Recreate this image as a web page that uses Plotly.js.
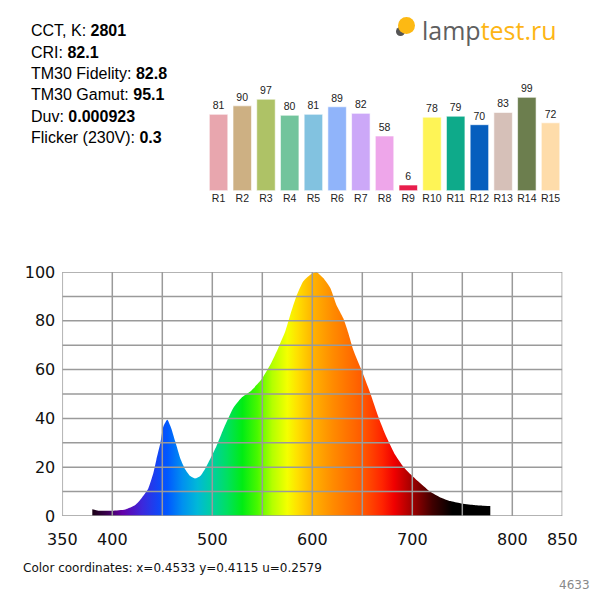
<!DOCTYPE html>
<html>
<head>
<meta charset="utf-8">
<script src="https://cdn.plot.ly/plotly-3.0.1.min.js"></script>
<style>
  html, body { margin: 0; padding: 0; background: #fff; }
  #chart { width: 600px; height: 600px; }
</style>
</head>
<body>
<div id="chart"></div>
<script>
// spectrum (nm -> relative power)
var wavelengths = [380, 386, 400, 413, 423, 429, 436, 441, 444, 448, 451, 455, 459, 463, 468, 473, 478, 483, 488, 493, 499,
    504, 509, 513, 521, 529, 538, 549, 558, 566, 573, 578, 584, 591, 598, 604, 611, 618, 624, 631, 636,
    641, 649, 658, 666, 674, 683, 691, 699, 708, 718, 728, 738, 748, 761, 771, 778]
var power = [2.8, 2.2, 2.2, 2.7, 4.5, 7.2, 11.3, 17.5, 23, 29.8, 36.6, 39.4, 35.9, 30.5, 23.6, 19.1, 16.4, 15.4, 16.4, 19.5, 24.3,
    28.5, 33.5, 37.4, 44.3, 48.4, 51, 55.9, 62, 68.9, 75.7, 82.5, 90, 96.2, 98.9, 100, 97.5, 93.4, 86.6, 81, 75,
    68, 60, 50.3, 40.7, 32.5, 25, 20.2, 16.8, 13.4, 9.9, 7.6, 6.1, 5.2, 4.5, 4.2, 4.1]

// colour rendering indices
var riNames = ['R1', 'R2', 'R3', 'R4', 'R5', 'R6', 'R7', 'R8', 'R9', 'R10', 'R11', 'R12', 'R13', 'R14', 'R15']
var riValues = [81, 90, 97, 80, 81, 89, 82, 58, 6, 78, 79, 70, 83, 99, 72]
var riColors = ['#e8a6ae', '#cdb083', '#aec266', '#72c49c', '#82c2e0', '#90b4fa', '#cca8f8', '#eea6ea',
    '#e81e4c', '#fef456', '#0eaa8a', '#065ebe', '#d6c0b8', '#6c7e4e', '#fedcaa']

var infoLabels = ['CCT, K: ', 'CRI: ', 'TM30 Fidelity: ', 'TM30 Gamut: ', 'Duv: ', 'Flicker (230V): ']
var infoValues = ['2801', '82.1', '82.8', '95.1', '0.000923', '0.3']

var xTicks = [350, 400, 500, 600, 700, 800, 850]
var coordText = 'Color coordinates: x=0.4533 y=0.4115 u=0.2579'
var sampleId = '4633'

// wavelength -> colour for the fill
var rainbow = [
    [0, '#1a0014'], [0.0375, '#3a0050'], [0.075, '#6400a8'], [0.125, '#3c28dc'],
    [0.1625, '#1444f4'], [0.1875, '#0058ff'], [0.225, '#0090f0'], [0.2625, '#00b8d8'],
    [0.3, '#00d0a0'], [0.3375, '#00e060'], [0.375, '#00ec14'], [0.4125, '#48f800'],
    [0.45, '#b4ff00'], [0.4875, '#f4ff00'], [0.5125, '#ffe000'], [0.55, '#ffb400'],
    [0.6, '#ff8c00'], [0.675, '#ff5a00'], [0.725, '#ff2400'], [0.755, '#f00000'],
    [0.8, '#a00000'], [0.85, '#400000'], [0.9, '#000000'], [1, '#000000']
]

var px = function (v) { return v / 600 }
var py = function (v) { return 1 - v / 600 }

var spectrum = {
    x: wavelengths,
    y: power,
    type: 'scatter',
    mode: 'none',
    fill: 'tozeroy',
    line: { shape: 'spline', smoothing: 0.5 },
    fillgradient: { type: 'horizontal', colorscale: rainbow, start: 380, stop: 780 },
    hoverinfo: 'skip',
    xaxis: 'x',
    yaxis: 'y'
}

var bars = {
    x: riNames,
    y: riValues,
    type: 'bar',
    marker: { color: riColors, line: { color: 'rgba(255,255,255,0.6)', width: 1 } },
    text: riValues.map(String),
    textposition: 'outside',
    textfont: { family: 'Liberation Sans, Arial', size: 10.5, color: '#222' },
    cliponaxis: false,
    hoverinfo: 'skip',
    xaxis: 'x2',
    yaxis: 'y2'
}

// grid drawn as shapes so it sits on top of the fill, like the original
var shapes = []
for (var g = 350; g <= 850; g += 50) {
    shapes.push({ type: 'line', xref: 'x', yref: 'y', x0: g, x1: g, y0: 0, y1: 100,
        line: { color: '#9a9a9a', width: 1.5 }, layer: 'above' })
}
for (var h = 0; h <= 100; h += 10) {
    shapes.push({ type: 'line', xref: 'x', yref: 'y', x0: 350, x1: 850, y0: h, y1: h,
        line: { color: '#9a9a9a', width: 1.5 }, layer: 'above' })
}
// logo bulb
shapes.push({ type: 'circle', xref: 'paper', yref: 'paper', x0: px(396), x1: px(405), y0: py(36), y1: py(27),
    fillcolor: '#555', line: { width: 0 } })
shapes.push({ type: 'circle', xref: 'paper', yref: 'paper', x0: px(398), x1: px(415), y0: py(34), y1: py(17),
    fillcolor: '#fdb913', line: { width: 0 } })

var annotations = []
infoLabels.forEach(function (lbl, i) {
    annotations.push({
        xref: 'paper', yref: 'paper', x: px(28.5), y: py(31 + i * 21.3),
        xanchor: 'left', yanchor: 'middle', showarrow: false,
        text: lbl + '<b>' + infoValues[i] + '</b>',
        font: { family: 'Liberation Sans, Arial', size: 16, color: '#000' }
    })
})
annotations.push({
    xref: 'paper', yref: 'paper', x: px(420), y: py(30),
    xanchor: 'left', yanchor: 'middle', showarrow: false,
    text: '<span style="color:#5f5f5f">lamp</span><span style="color:#fdb515">test.ru</span>',
    font: { family: 'Open Sans', size: 25 }
})
annotations.push({
    xref: 'paper', yref: 'paper', x: px(20.5), y: py(568),
    xanchor: 'left', yanchor: 'middle', showarrow: false,
    text: coordText,
    font: { family: 'DejaVu Sans', size: 12, color: '#111' }
})
annotations.push({
    xref: 'paper', yref: 'paper', x: px(592), y: py(585),
    xanchor: 'right', yanchor: 'middle', showarrow: false,
    text: sampleId,
    font: { family: 'DejaVu Sans', size: 12, color: '#888' }
})

var layout = {
    width: 600,
    height: 600,
    margin: { l: 0, r: 0, t: 0, b: 0 },
    paper_bgcolor: '#fff',
    plot_bgcolor: '#fff',
    showlegend: false,
    bargap: 0.22,
    xaxis: {
        domain: [px(62.3), px(562.3)],
        range: [350, 850],
        tickvals: xTicks,
        ticks: '',
        showgrid: false,
        zeroline: false,
        showline: false,
        ticklabelstandoff: 12,
        tickfont: { family: 'DejaVu Sans', size: 16, color: '#111' },
        fixedrange: true
    },
    yaxis: {
        domain: [py(516), py(272)],
        range: [0, 100],
        dtick: 20,
        ticks: '',
        showgrid: false,
        zeroline: false,
        showline: false,
        ticklabelstandoff: 6,
        tickfont: { family: 'DejaVu Sans', size: 16, color: '#111' },
        fixedrange: true
    },
    xaxis2: {
        domain: [px(206.7), px(562.4)],
        type: 'category',
        anchor: 'y2',
        ticks: '',
        showgrid: false,
        showline: false,
        ticklabelstandoff: 0,
        tickfont: { family: 'Liberation Sans, Arial', size: 10.5, color: '#222' },
        fixedrange: true
    },
    yaxis2: {
        domain: [py(190.7), py(96.4)],
        range: [0, 100],
        anchor: 'x2',
        visible: false,
        fixedrange: true
    },
    shapes: shapes,
    annotations: annotations
}

Plotly.newPlot('chart', [spectrum, bars], layout, { staticPlot: true, displayModeBar: false })
</script>
</body>
</html>
